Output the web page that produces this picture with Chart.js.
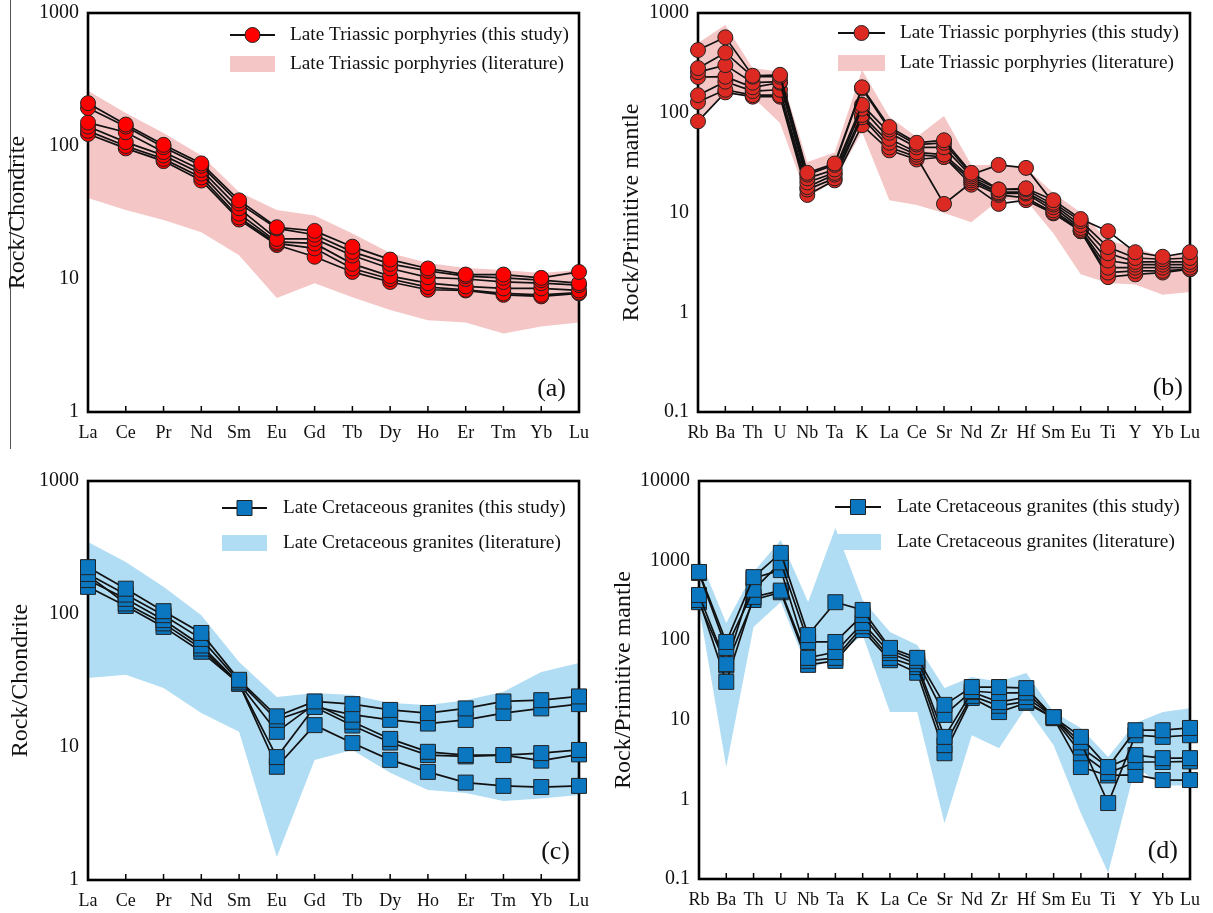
<!DOCTYPE html>
<html>
<head>
<meta charset="utf-8">
<script src="https://cdn.jsdelivr.net/npm/chart.js@4.4.1/dist/chart.umd.min.js"></script>
<style>
  body { margin: 0; background: #fff; width: 1213px; height: 913px; position: relative; overflow: hidden; }
  .panel { position: absolute; }
  #rule { position: absolute; left: 10px; top: 0; width: 1px; height: 449px; background: #555; }
</style>
</head>
<body>
<div id="rule"></div>
<div class="panel" style="left:0;top:0;width:600px;height:455px"><canvas id="chartA"></canvas></div>
<div class="panel" style="left:600px;top:0;width:613px;height:455px"><canvas id="chartB"></canvas></div>
<div class="panel" style="left:0;top:460px;width:600px;height:453px"><canvas id="chartC"></canvas></div>
<div class="panel" style="left:600px;top:460px;width:613px;height:453px"><canvas id="chartD"></canvas></div>
<script>
// element labels
const reeLabels = ['La', 'Ce', 'Pr', 'Nd', 'Sm', 'Eu', 'Gd', 'Tb', 'Dy', 'Ho', 'Er', 'Tm', 'Yb', 'Lu'];
const spiderLabels = ['Rb', 'Ba', 'Th', 'U', 'Nb', 'Ta', 'K', 'La', 'Ce', 'Sr', 'Nd', 'Zr', 'Hf', 'Sm', 'Eu', 'Ti', 'Y', 'Yb', 'Lu'];

// y tick labels
const ticksChondrite = [1, 10, 100, 1000];
const ticksMantleB = [0.1, 1, 10, 100, 1000];
const ticksMantleD = [0.1, 1, 10, 100, 1000, 10000];

// (a) Late Triassic porphyries, chondrite normalised
const porphyryRee1 = [210, 145, 102, 74, 39, 24.5, 23, 17.5, 14, 12, 10.8, 10.8, 10.2, 11.3];
const porphyryRee2 = [193, 140, 98, 71, 37, 24, 21.5, 16, 13, 11.5, 10.5, 10.2, 9.8, 9.3];
const porphyryRee3 = [150, 127, 90, 66, 34, 20, 20, 15, 12, 10.3, 10, 9.5, 9.3, 9.0];
const porphyryRee4 = [140, 107, 85, 62, 31, 19, 18.5, 13, 10.5, 9.3, 8.8, 8.5, 8.5, 8.2];
const porphyryRee5 = [130, 100, 80, 58, 29, 18.5, 17, 12, 10, 8.7, 8.3, 7.8, 7.6, 7.9];
const porphyryRee6 = [123, 96, 77, 55, 28, 18, 14.7, 11.3, 9.5, 8.3, 8.2, 7.6, 7.4, 7.8];
const porphyryReeLitHigh = [260, 177, 125, 85, 45, 33, 30, 22, 15.7, 13.2, 12.1, 11.7, 11.1, 11.7];
const porphyryReeLitLow = [40.6, 33, 27.8, 22.5, 15.1, 7.2, 9.3, 7.3, 5.85, 4.9, 4.7, 3.9, 4.4, 4.7];

// (b) Late Triassic porphyries, primitive mantle normalised
const porphyryPm1 = [425, 570, 235, 240, 25, 31, 180, 72, 50, 53, 25, 17, 17.5, 13.3, 8.6, 6.5, 4.0, 3.6, 4.0];
const porphyryPm2 = [280, 400, 230, 230, 24, 30, 175, 68, 48, 50, 24, 30, 28, 12.5, 8.2, 4.5, 3.5, 3.4, 3.5];
const porphyryPm3 = [255, 300, 200, 205, 22, 27, 120, 63, 45, 45, 23, 17, 17, 12, 7.5, 3.9, 3.2, 3.2, 3.2];
const porphyryPm4 = [228, 230, 180, 200, 20, 25, 110, 55, 40, 38, 22, 16, 16, 11.3, 7.0, 3.3, 3.0, 3.0, 3.0];
const porphyryPm5 = [150, 205, 165, 170, 18, 24, 95, 50, 38, 36, 21, 15.5, 15.5, 10.5, 6.7, 2.8, 2.8, 2.8, 2.8];
const porphyryPm6 = [128, 170, 150, 150, 17, 22, 90, 45, 36, 12.2, 20, 15, 14, 10, 6.5, 2.5, 2.6, 2.6, 2.7];
const porphyryPm7 = [82, 160, 145, 145, 15, 21, 75, 42, 34, 36, 19, 12.2, 13.3, 9.8, 6.5, 2.25, 2.4, 2.5, 2.7];
const porphyryPmLitHigh = [500, 758, 281, 257, 32, 40, 268, 91, 57, 93, 30, 30, 28, 15.7, 10, 5.3, 4.4, 3.6, 3.9];
const porphyryPmLitLow = [85, 158, 144, 79, 14, 21, 64, 13.3, 11.9, 9.9, 8.0, 13.3, 13.3, 6.2, 2.4, 1.96, 1.9, 1.5, 1.6];

// (c) Late Cretaceous granites, chondrite normalised
const graniteRee1 = [225, 155, 105, 72, 32, 17, 22, 21, 19, 18, 19.5, 22, 22.5, 24];
const graniteRee2 = [200, 140, 98, 65, 31, 16, 20, 17.5, 16, 15, 16, 18, 19.5, 21];
const graniteRee3 = [180, 130, 90, 58, 30, 13, 21, 15.5, 11.5, 9.2, 8.7, 8.7, 9, 9.5];
const graniteRee4 = [195, 120, 85, 55, 30, 8.4, 20, 14.5, 10.8, 8.7, 8.5, 8.7, 7.9, 8.8];
const graniteRee5 = [160, 115, 80, 52, 30, 7.1, 14.6, 10.7, 8.0, 6.5, 5.4, 5.1, 5.0, 5.1];
const graniteReeLitHigh = [348, 246, 160, 98, 43.5, 23.8, 25.5, 24.6, 21.4, 20.7, 22.5, 26, 36.6, 42.8];
const graniteReeLitLow = [33, 35, 27.8, 18, 13, 1.49, 8.0, 9.5, 6.4, 4.75, 4.5, 3.93, 4.1, 4.36];

// (d) Late Cretaceous granites, primitive mantle normalised
const granitePm1 = [720, 95, 620, 1250, 116, 300, 240, 80, 60, 15.4, 25.8, 25.8, 25, 10.8, 6.1, 2.55, 7.4, 7.4, 7.9];
const granitePm2 = [700, 80, 430, 950, 95, 95, 207, 75, 55, 11.5, 23, 21.7, 22, 10.8, 5.2, 0.9, 6.4, 6.1, 6.4];
const granitePm3 = [370, 50, 600, 760, 60, 71, 165, 69, 50, 6.1, 22.3, 16.7, 19.3, 10.8, 4.5, 2.55, 3.6, 3.3, 3.3];
const granitePm4 = [320, 30, 350, 420, 55, 60, 150, 60, 46, 4.8, 20, 15, 17, 10.5, 3.8, 2.15, 2.95, 2.95, 3.0];
const granitePm5 = [300, 48, 320, 400, 49, 55, 134, 56, 39, 3.8, 18.8, 12.5, 16.3, 10.5, 2.55, 2.0, 2.03, 1.75, 1.75];
const granitePmLitHigh = [1110, 164, 720, 1815, 302, 2570, 320, 127, 87, 25, 34.5, 30, 38.7, 12.5, 7.9, 3.4, 9.1, 12.5, 14];
const granitePmLitLow = [261, 2.55, 146, 302, 42, 61, 116, 12.5, 12.5, 0.5, 6.4, 4.4, 14.5, 4.8, 0.67, 0.12, 2.55, 1.5, 1.5];

const serif = '"Liberation Serif", "Times New Roman", serif';

// plot frame + inward x ticks
const framePlugin = {
    id: 'frame',
    beforeDatasetsDraw(chart) {
        const ctx = chart.ctx;
        const a = chart.chartArea;
        const xs = chart.scales.x;
        ctx.save();
        ctx.strokeStyle = '#000';
        ctx.lineWidth = 1.5;
        xs.ticks.forEach((t, i) => {
            const x = xs.getPixelForTick(i);
            ctx.beginPath();
            ctx.moveTo(x, a.bottom);
            ctx.lineTo(x, a.bottom - 6);
            ctx.stroke();
        });
        ctx.lineWidth = 2.6;
        ctx.strokeRect(a.left, a.top, a.right - a.left, a.bottom - a.top);
        ctx.restore();
    }
};

// legend box and panel tag
const sketchLegend = {
    id: 'sketchLegend',
    afterDraw(chart, args, o) {
        const ctx = chart.ctx;
        ctx.save();
        // line + marker
        ctx.strokeStyle = '#111';
        ctx.lineWidth = 2;
        ctx.beginPath();
        ctx.moveTo(o.x, o.y1);
        ctx.lineTo(o.x + o.w, o.y1);
        ctx.stroke();
        const cx = o.x + o.w / 2;
        ctx.fillStyle = o.color;
        ctx.strokeStyle = '#222';
        ctx.lineWidth = 1;
        ctx.beginPath();
        if (o.marker === 'rect') {
            ctx.rect(cx - 7.5, o.y1 - 7.5, 15, 15);
        } else {
            ctx.arc(cx, o.y1, 7.5, 0, Math.PI * 2);
        }
        ctx.fill();
        ctx.stroke();
        // band swatch
        ctx.fillStyle = o.bandColor;
        ctx.fillRect(o.x, o.y2 - 8, o.w, 16);
        // texts
        ctx.fillStyle = '#111';
        ctx.font = '19.3px ' + serif;
        ctx.textBaseline = 'middle';
        ctx.textAlign = 'left';
        ctx.fillText(o.text1, o.textX, o.y1);
        ctx.fillText(o.text2, o.textX, o.y2);
        ctx.font = '26px ' + serif;
        ctx.textAlign = 'right';
        ctx.fillText(o.tag, o.tagX, o.tagY);
        ctx.restore();
    }
};

function makePanel(canvasId, p) {
    var datasets = p.samples.map(s => ({
        data: s,
        borderColor: '#111',
        borderWidth: 1.7,
        pointStyle: p.marker,
        pointRadius: p.marker === 'rect' ? 10.6 : 7.5,
        pointBackgroundColor: p.color,
        pointBorderColor: '#222',
        pointBorderWidth: 1,
        fill: false,
        clip: false,
    }));
    // literature field
    datasets.push({ data: p.bandHigh, fill: '+1', backgroundColor: p.bandColor, borderWidth: 0, pointRadius: 0 });
    datasets.push({ data: p.bandLow, fill: false, borderWidth: 0, pointRadius: 0 });

    return new Chart(document.getElementById(canvasId), {
        type: 'line',
        data: { labels: p.labels, datasets: datasets },
        options: {
            responsive: true,
            maintainAspectRatio: false,
            animation: false,
            layout: { padding: { left: 0, top: p.padTop, right: p.padRight, bottom: 0 } },
            plugins: {
                legend: { display: false },
                tooltip: { enabled: false },
                filler: { drawTime: 'beforeDatasetsDraw' },
                sketchLegend: p.legend,
            },
            scales: {
                x: {
                    type: 'category',
                    offset: false,
                    grid: { display: false, drawTicks: false },
                    border: { display: false },
                    ticks: { color: '#111', font: { family: serif, size: 18 }, padding: p.xPad, autoSkip: false, maxRotation: 0 },
                    afterFit(s) { s.height = p.xHeight; s.paddingLeft = 0; s.paddingRight = 0; },
                },
                y: {
                    type: 'logarithmic',
                    min: p.yTicks[0],
                    max: p.yTicks[p.yTicks.length - 1],
                    grid: { display: false, drawTicks: false },
                    border: { display: false },
                    ticks: { color: '#111', font: { family: serif, size: 20 }, padding: 9, callback: v => String(v) },
                    afterBuildTicks(s) { s.ticks = p.yTicks.map(v => ({ value: v })); },
                    afterFit(s) { s.width = p.yWidth; s.paddingTop = 0; s.paddingBottom = 0; },
                    title: { display: true, text: p.yTitle, color: '#111', font: { family: serif, size: 24 }, padding: { top: p.titlePad, bottom: 0 } },
                },
            },
        },
        plugins: [framePlugin, sketchLegend],
    });
}

const pink = '#f5c6c6';
const skyBlue = '#b1ddf4';

makePanel('chartA', {
    labels: reeLabels, yTicks: ticksChondrite, yTitle: 'Rock/Chondrite',
    samples: [porphyryRee1, porphyryRee2, porphyryRee3, porphyryRee4, porphyryRee5, porphyryRee6],
    bandHigh: porphyryReeLitHigh, bandLow: porphyryReeLitLow,
    marker: 'circle', color: '#ff0000', bandColor: pink,
    padTop: 13, padRight: 21, yWidth: 88, xHeight: 43, xPad: 10, titlePad: 3.6,
    legend: { x: 230, w: 45, y1: 35, y2: 64, textX: 290, marker: 'circle', color: '#ff0000', bandColor: pink,
              text1: 'Late Triassic porphyries (this study)', text2: 'Late Triassic porphyries (literature)',
              tag: '(a)', tagX: 566, tagY: 389 },
});

makePanel('chartB', {
    labels: spiderLabels, yTicks: ticksMantleB, yTitle: 'Rock/Primitive mantle',
    samples: [porphyryPm1, porphyryPm2, porphyryPm3, porphyryPm4, porphyryPm5, porphyryPm6, porphyryPm7],
    bandHigh: porphyryPmLitHigh, bandLow: porphyryPmLitLow,
    marker: 'circle', color: '#dc2a22', bandColor: pink,
    padTop: 13, padRight: 23, yWidth: 98, xHeight: 43, xPad: 10, titlePad: 17.6,
    legend: { x: 238, w: 47, y1: 33, y2: 63, textX: 300, marker: 'circle', color: '#dc2a22', bandColor: pink,
              text1: 'Late Triassic porphyries (this study)', text2: 'Late Triassic porphyries (literature)',
              tag: '(b)', tagX: 583, tagY: 388 },
});

makePanel('chartC', {
    labels: reeLabels, yTicks: ticksChondrite, yTitle: 'Rock/Chondrite',
    samples: [graniteRee1, graniteRee2, graniteRee3, graniteRee4, graniteRee5],
    bandHigh: graniteReeLitHigh, bandLow: graniteReeLitLow,
    marker: 'rect', color: '#0a77c0', bandColor: skyBlue,
    padTop: 21, padRight: 21, yWidth: 88, xHeight: 33, xPad: 10, titlePad: 6.6,
    legend: { x: 222, w: 45, y1: 48, y2: 83, textX: 283, marker: 'rect', color: '#0a77c0', bandColor: skyBlue,
              text1: 'Late Cretaceous granites (this study)', text2: 'Late Cretaceous granites (literature)',
              tag: '(c)', tagX: 570, tagY: 392 },
});

makePanel('chartD', {
    labels: spiderLabels, yTicks: ticksMantleD, yTitle: 'Rock/Primitive mantle',
    samples: [granitePm1, granitePm2, granitePm3, granitePm4, granitePm5],
    bandHigh: granitePmLitHigh, bandLow: granitePmLitLow,
    marker: 'rect', color: '#0a77c0', bandColor: skyBlue,
    padTop: 21, padRight: 23, yWidth: 99, xHeight: 34, xPad: 10, titlePad: 9.6,
    legend: { x: 235, w: 46, y1: 47, y2: 82, textX: 297, marker: 'rect', color: '#0a77c0', bandColor: skyBlue,
              text1: 'Late Cretaceous granites (this study)', text2: 'Late Cretaceous granites (literature)',
              tag: '(d)', tagX: 578, tagY: 391 },
});
</script>
</body>
</html>
